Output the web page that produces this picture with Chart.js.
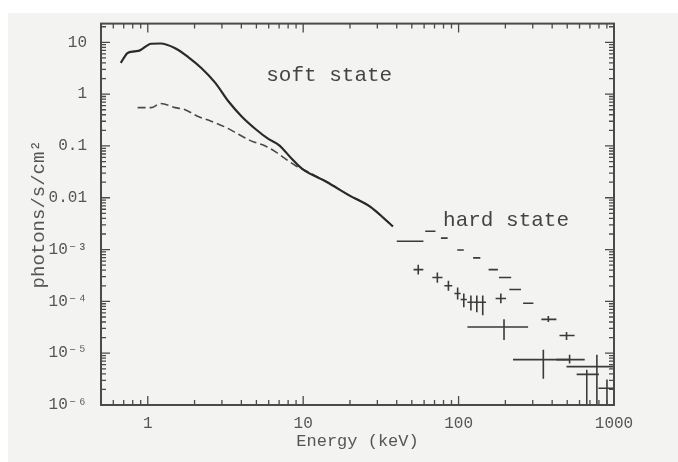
<!DOCTYPE html>
<html><head><meta charset="utf-8">
<script src="https://cdn.jsdelivr.net/npm/chart.js@4"></script>
<style>html,body{margin:0;padding:0;background:#fff;overflow:hidden}canvas{display:block}</style>
</head><body>
<canvas id="c" width="678" height="462"></canvas>
<script>
// ---- data (energy in keV, flux in photons/s/cm2) ----
const softLowE = [0.67, 0.74, 0.82, 0.89, 1.05, 1.21, 1.50, 1.82, 2.21, 2.72, 3.31, 4.02, 4.95, 6.0, 6.98, 8.47, 9.86, 14.1, 19.9, 26.8, 37.8];
const softLowF = [4.0, 6.2, 6.7, 7.0, 9.4, 9.5, 7.7, 5.2, 3.2, 1.65, 0.72, 0.37, 0.21, 0.135, 0.104, 0.056, 0.036, 0.0204, 0.0110, 0.0068, 0.0028];

const hardLowE = [0.86, 1.05, 1.21, 1.50, 1.74, 2.11, 2.56, 3.16, 3.84, 4.66, 5.75, 6.68, 9.0, 9.86, 14.1, 19.9, 26.8, 37.8];
const hardLowF = [0.55, 0.55, 0.66, 0.55, 0.50, 0.37, 0.30, 0.23, 0.168, 0.124, 0.099, 0.076, 0.041, 0.036, 0.0204, 0.0110, 0.0068, 0.0028];

const hardHighE   = [66, 80, 103, 131, 166, 199, 231, 281, 378, 495];
const hardHighELo = [61, 77, 98, 124, 156, 182, 212, 260, 341, 446];
const hardHighEHi = [71, 85, 108, 138, 179, 218, 252, 303, 426, 558];
const hardHighF   = [2.26e-3, 1.66e-3, 9.8e-4, 6.9e-4, 4.1e-4, 2.9e-4, 1.7e-4, 9.2e-5, 4.5e-5, 2.2e-5];
const hardHighFLo = [2.26e-3, 1.66e-3, 9.8e-4, 6.9e-4, 4.1e-4, 2.9e-4, 1.7e-4, 9.2e-5, 4.0e-5, 1.8e-5];
const hardHighFHi = [2.26e-3, 1.66e-3, 9.8e-4, 6.9e-4, 4.1e-4, 2.9e-4, 1.7e-4, 9.2e-5, 5.2e-5, 2.56e-5];

const softHighE   = [49, 55, 73, 86, 98.6, 108, 120, 131, 143, 187, 196, 351, 518, 776, 668, 901];
const softHighELo = [40, 51.3, 67.8, 81, 94, 103, 114, 125, 137, 173, 114, 224, 426, 495, 575, 794];
const softHighEHi = [59.4, 59.3, 78.8, 91, 103, 113, 125, 137, 150, 202, 280, 518, 648, 1000, 800, 1000];
const softHighF   = [1.45e-3, 4.1e-4, 2.9e-4, 2.0e-4, 1.42e-4, 1.09e-4, 9.6e-5, 9.6e-5, 9.6e-5, 1.14e-4, 3.2e-5, 7.5e-6, 7.5e-6, 5.5e-6, 3.9e-6, 2.1e-6];
const softHighFLo = [1.45e-3, 3.3e-4, 2.3e-4, 1.6e-4, 1.09e-4, 7.7e-5, 6.7e-5, 6.2e-5, 5.4e-5, 9.2e-5, 1.8e-5, 3.2e-6, 6.3e-6, 1e-6, 1e-6, 1e-6];
const softHighFHi = [1.45e-3, 5.1e-4, 3.6e-4, 2.5e-4, 1.85e-4, 1.42e-4, 1.30e-4, 1.30e-4, 1.30e-4, 1.42e-4, 4.5e-5, 1.16e-5, 9.3e-6, 9.3e-6, 4.8e-6, 3.1e-6];

const xTickValues = [1, 10, 100, 1000];
const xTickLabels = ['1', '10', '100', '1000'];
const yTickValues = [10, 1, 0.1, 0.01, 1e-3, 1e-4, 1e-5, 1e-6];
const yTickLabels = ['10', '1', '0.1', '0.01', '10\u207B\u00B3', '10\u207B\u2074', '10\u207B\u2075', '10\u207B\u2076'];

const annotationTexts = ['soft state', 'hard state'];
const annotationE = [14.7, 202];
const annotationF = [2.34, 3.67e-3];
// -----------------------------------------------

const FONT = "'Liberation Mono', 'DejaVu Sans Mono', monospace";

function pts(E, F) { return E.map((e, i) => ({x: e, y: F[i]})); }
function errPts(E, Elo, Ehi, F, Flo, Fhi) {
  return E.map((e, i) => ({x: e, y: F[i], xMin: Elo[i], xMax: Ehi[i], yMin: Flo[i], yMax: Fhi[i]}));
}

const bgPlugin = {
  id: 'bg',
  beforeDraw(chart) {
    const ctx = chart.ctx;
    ctx.save();
    ctx.fillStyle = '#ffffff';
    ctx.fillRect(0, 0, chart.width, chart.height);
    ctx.fillStyle = '#f3f3f2';
    ctx.fillRect(8, 13, chart.width - 8, chart.height - 13);
    ctx.restore();
  }
};

const errPlugin = {
  id: 'errbars',
  afterDatasetsDraw(chart) {
    const ctx = chart.ctx, xs = chart.scales.x, ys = chart.scales.y, a = chart.chartArea;
    ctx.save();
    ctx.beginPath();
    ctx.rect(a.left, a.top, a.right - a.left, a.bottom - a.top);
    ctx.clip();
    chart.data.datasets.forEach(ds => {
      if (!ds.errorBars) return;
      ctx.strokeStyle = ds.borderColor;
      ctx.lineWidth = ds.borderWidth;
      ds.data.forEach(p => {
        const px = xs.getPixelForValue(p.x), py = ys.getPixelForValue(p.y);
        ctx.beginPath();
        ctx.moveTo(xs.getPixelForValue(p.xMin), py);
        ctx.lineTo(xs.getPixelForValue(p.xMax), py);
        if (p.yMin !== p.yMax) {
          ctx.moveTo(px, ys.getPixelForValue(p.yMin));
          ctx.lineTo(px, ys.getPixelForValue(p.yMax));
        }
        ctx.stroke();
      });
    });
    ctx.restore();
  }
};

const framePlugin = {
  id: 'frame',
  afterDraw(chart) {
    const ctx = chart.ctx, xs = chart.scales.x, ys = chart.scales.y, a = chart.chartArea;
    ctx.save();
    ctx.strokeStyle = '#4a4a4a';
    ctx.lineWidth = 2;
    ctx.strokeRect(a.left, a.top, a.right - a.left, a.bottom - a.top);
    ctx.lineWidth = 1.3;
    ctx.beginPath();
    for (let d = -1; d <= 3; d++) {
      for (let m = 1; m <= 9; m++) {
        const v = m * Math.pow(10, d);
        if (v < xs.min || v > xs.max) continue;
        const px = xs.getPixelForValue(v);
        const L = m === 1 ? 9 : 5;
        ctx.moveTo(px, a.bottom); ctx.lineTo(px, a.bottom - L);
        ctx.moveTo(px, a.top); ctx.lineTo(px, a.top + L);
      }
    }
    for (let d = -6; d <= 1; d++) {
      for (let m = 1; m <= 9; m++) {
        const v = m * Math.pow(10, d);
        if (v < ys.min || v > ys.max) continue;
        const py = ys.getPixelForValue(v);
        const L = m === 1 ? 9 : 5;
        ctx.moveTo(a.left, py); ctx.lineTo(a.left + L, py);
        ctx.moveTo(a.right, py); ctx.lineTo(a.right - L, py);
      }
    }
    ctx.stroke();
    // annotations
    ctx.fillStyle = '#444';
    ctx.font = "21px " + FONT;
    ctx.textAlign = 'center';
    ctx.textBaseline = 'middle';
    annotationTexts.forEach((t, i) => {
      ctx.fillText(t, xs.getPixelForValue(annotationE[i]), ys.getPixelForValue(annotationF[i]));
    });
    ctx.restore();
  }
};

new Chart(document.getElementById('c'), {
  type: 'line',
  data: {
    datasets: [
      {label: 'soft state', data: pts(softLowE, softLowF), borderColor: '#2a2a2a', borderWidth: 2.2,
       pointRadius: 0, cubicInterpolationMode: 'monotone', fill: false},
      {label: 'hard state', data: pts(hardLowE, hardLowF), borderColor: '#4a4a4a', borderWidth: 1.6,
       borderDash: [8, 4], pointRadius: 0, cubicInterpolationMode: 'monotone', fill: false},
      {label: 'hard state high energy', data: errPts(hardHighE, hardHighELo, hardHighEHi, hardHighF, hardHighFLo, hardHighFHi),
       borderColor: '#3a3a3a', borderWidth: 1.6, showLine: false, pointRadius: 0, errorBars: true},
      {label: 'soft state high energy', data: errPts(softHighE, softHighELo, softHighEHi, softHighF, softHighFLo, softHighFHi),
       borderColor: '#3a3a3a', borderWidth: 1.6, showLine: false, pointRadius: 0, errorBars: true}
    ]
  },
  options: {
    responsive: false,
    animation: false,
    devicePixelRatio: 1,
    layout: {padding: {left: 0, right: 64, top: 23, bottom: 0}},
    plugins: {legend: {display: false}, tooltip: {enabled: false}},
    scales: {
      x: {
        type: 'logarithmic', position: 'bottom', min: 0.5, max: 1000,
        grid: {display: false, drawTicks: false}, border: {display: false},
        afterBuildTicks: s => { s.ticks = xTickValues.map(v => ({value: v})); },
        afterFit: s => { s.height = 57; },
        ticks: {autoSkip: false, maxRotation: 0, padding: 9, color: '#555', font: {family: FONT, size: 16},
                callback: v => xTickLabels[xTickValues.indexOf(v)]},
        title: {display: true, text: 'Energy (keV)', color: '#555', font: {family: FONT, size: 17}, padding: {top: 0, bottom: 10}}
      },
      y: {
        type: 'logarithmic', position: 'left', min: 1e-6, max: 23,
        grid: {display: false, drawTicks: false}, border: {display: false},
        afterBuildTicks: s => { s.ticks = yTickValues.map(v => ({value: v})); },
        afterFit: s => { s.width = 101; },
        ticks: {autoSkip: false, padding: 14, color: '#555', font: {family: FONT, size: 16},
                callback: v => yTickLabels[yTickValues.indexOf(v)]},
        title: {display: true, text: 'photons/s/cm\u00B2', color: '#555', font: {family: FONT, size: 19}, padding: {top: 28, bottom: 0}}
      }
    }
  },
  plugins: [bgPlugin, errPlugin, framePlugin]
});
</script>
</body></html>
